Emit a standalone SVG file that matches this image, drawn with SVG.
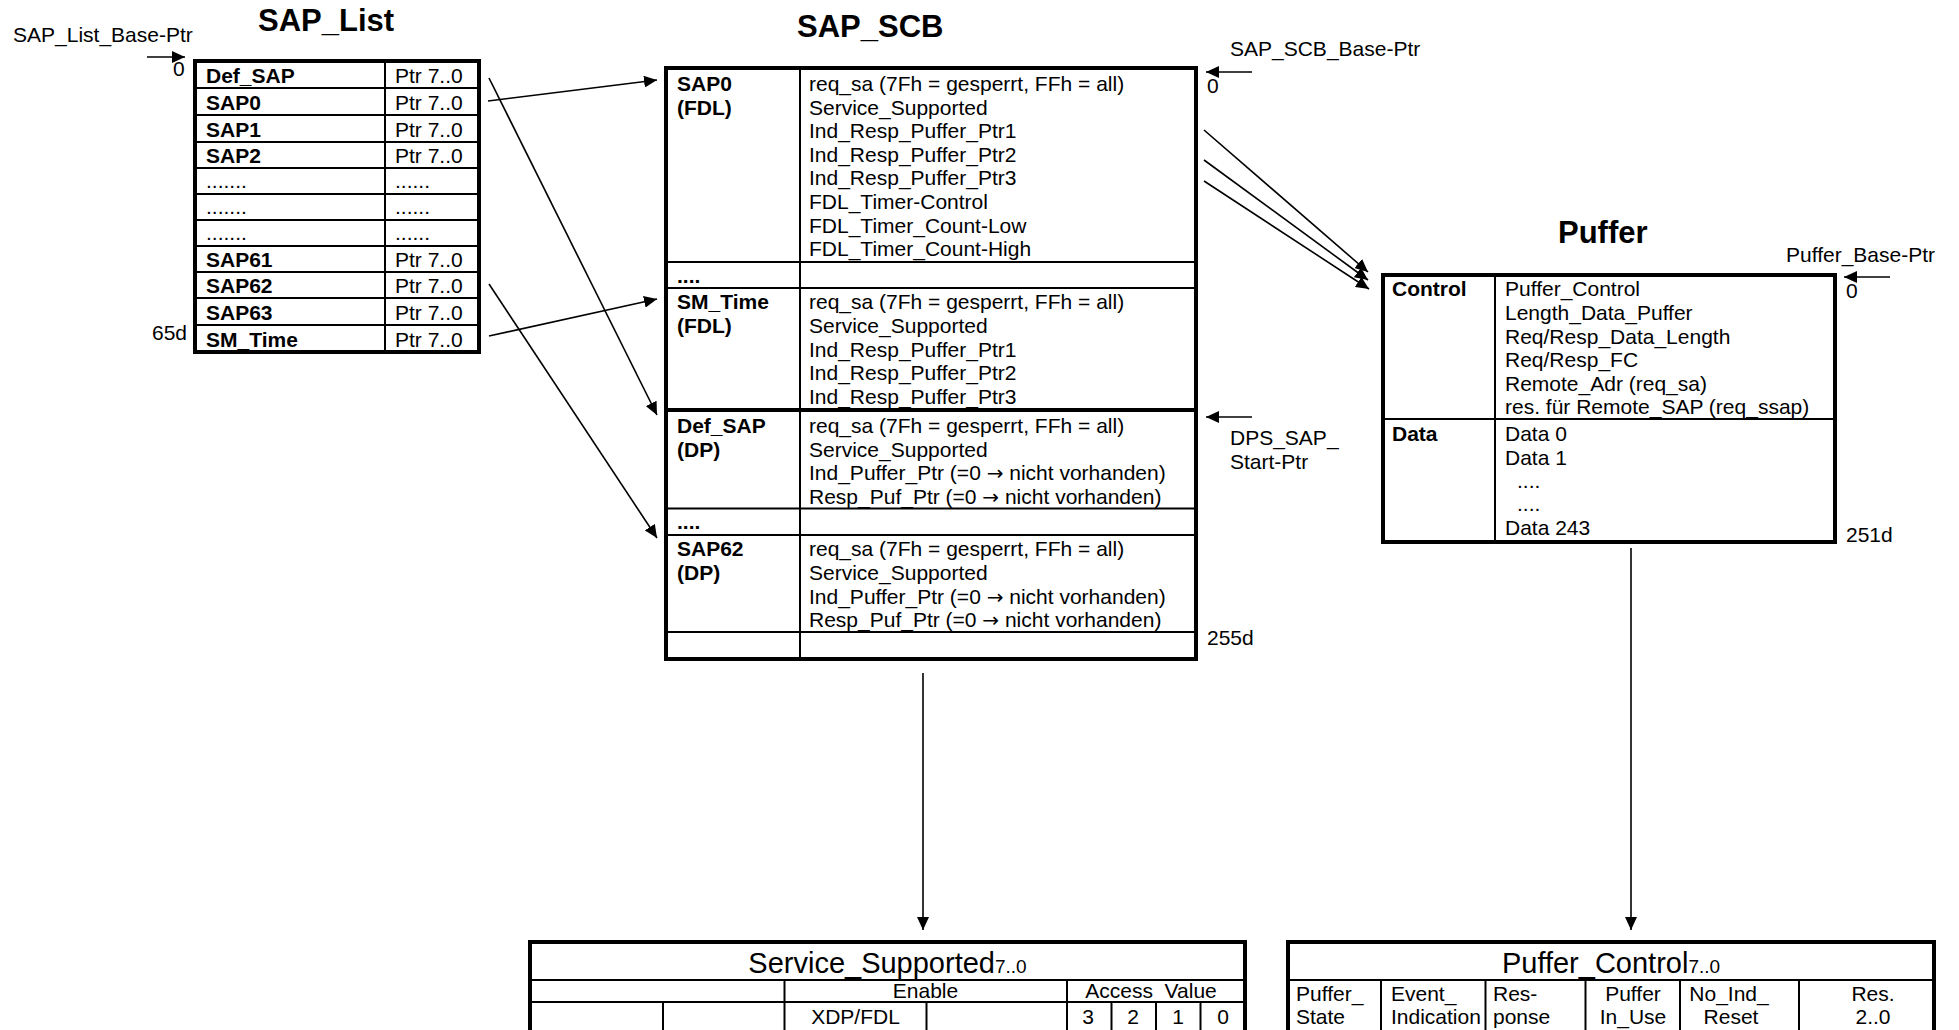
<svg xmlns="http://www.w3.org/2000/svg" width="1959" height="1030" viewBox="0 0 1959 1030">
<defs>
<marker id="ah" markerUnits="userSpaceOnUse" markerWidth="14" markerHeight="12" refX="13" refY="6" orient="auto"><path d="M0,0 L13,6 L0,12 Z" fill="#000"/></marker>
</defs>
<style>
text{font-family:"Liberation Sans",Arial,sans-serif;font-size:21px;fill:#000}
.b{font-weight:bold}
.t{font-weight:bold;font-size:31px}
.m{text-anchor:middle}
.sym{font-family:"DejaVu Sans",sans-serif;font-size:20px}
.ob{fill:none;stroke:#000;stroke-width:4}
.il{stroke:#000;stroke-width:2}
.tl{stroke:#000;stroke-width:4}
.ar{stroke:#000;stroke-width:1.6;fill:none;marker-end:url(#ah)}
</style>
<rect width="1959" height="1030" fill="#fff"/>

<g id="sap_list">
<text class="t" x="258" y="31">SAP_List</text>
<rect class="ob" x="195" y="61" width="284" height="291"/>
<line class="il" x1="385" y1="61" x2="385" y2="352"/>
<line class="il" x1="195" y1="88" x2="479" y2="88"/>
<line class="il" x1="195" y1="115" x2="479" y2="115"/>
<line class="il" x1="195" y1="142" x2="479" y2="142"/>
<line class="il" x1="195" y1="168" x2="479" y2="168"/>
<line class="il" x1="195" y1="194" x2="479" y2="194"/>
<line class="il" x1="195" y1="220" x2="479" y2="220"/>
<line class="il" x1="195" y1="246" x2="479" y2="246"/>
<line class="il" x1="195" y1="272" x2="479" y2="272"/>
<line class="il" x1="195" y1="298" x2="479" y2="298"/>
<line class="il" x1="195" y1="325" x2="479" y2="325"/>
<text class="b" x="206" y="83">Def_SAP</text><text x="395" y="83">Ptr 7..0</text>
<text class="b" x="206" y="110">SAP0</text><text x="395" y="110">Ptr 7..0</text>
<text class="b" x="206" y="137">SAP1</text><text x="395" y="137">Ptr 7..0</text>
<text class="b" x="206" y="163">SAP2</text><text x="395" y="163">Ptr 7..0</text>
<text x="206" y="188">.......</text><text x="395" y="188">......</text>
<text x="206" y="214">.......</text><text x="395" y="214">......</text>
<text x="206" y="240">.......</text><text x="395" y="240">......</text>
<text class="b" x="206" y="267">SAP61</text><text x="395" y="267">Ptr 7..0</text>
<text class="b" x="206" y="293">SAP62</text><text x="395" y="293">Ptr 7..0</text>
<text class="b" x="206" y="320">SAP63</text><text x="395" y="320">Ptr 7..0</text>
<text class="b" x="206" y="347">SM_Time</text><text x="395" y="347">Ptr 7..0</text>
</g>

<g id="sap_scb">
<text class="t" x="797" y="37">SAP_SCB</text>
<rect class="ob" x="666" y="68" width="530" height="591"/>
<line class="il" x1="800" y1="68" x2="800" y2="659"/>
<line class="il" x1="666" y1="262" x2="1196" y2="262"/>
<line class="il" x1="666" y1="288" x2="1196" y2="288"/>
<line class="tl" x1="666" y1="410" x2="1196" y2="410"/>
<line class="il" x1="666" y1="508.5" x2="1196" y2="508.5"/>
<line class="il" x1="666" y1="535" x2="1196" y2="535"/>
<line class="il" x1="666" y1="632" x2="1196" y2="632"/>
<text class="b" x="677" y="91">SAP0</text>
<text class="b" x="677" y="114.5">(FDL)</text>
<text x="809" y="91">req_sa (7Fh = gesperrt, FFh = all)</text>
<text x="809" y="114.5">Service_Supported</text>
<text x="809" y="138">Ind_Resp_Puffer_Ptr1</text>
<text x="809" y="161.5">Ind_Resp_Puffer_Ptr2</text>
<text x="809" y="185">Ind_Resp_Puffer_Ptr3</text>
<text x="809" y="209">FDL_Timer-Control</text>
<text x="809" y="232.5">FDL_Timer_Count-Low</text>
<text x="809" y="256">FDL_Timer_Count-High</text>
<text class="b" x="677" y="283">....</text>
<text class="b" x="677" y="309">SM_Time</text>
<text class="b" x="677" y="333">(FDL)</text>
<text x="809" y="309">req_sa (7Fh = gesperrt, FFh = all)</text>
<text x="809" y="333">Service_Supported</text>
<text x="809" y="356.5">Ind_Resp_Puffer_Ptr1</text>
<text x="809" y="380">Ind_Resp_Puffer_Ptr2</text>
<text x="809" y="403.5">Ind_Resp_Puffer_Ptr3</text>
<text class="b" x="677" y="433">Def_SAP</text>
<text class="b" x="677" y="456.5">(DP)</text>
<text x="809" y="433">req_sa (7Fh = gesperrt, FFh = all)</text>
<text x="809" y="456.5">Service_Supported</text>
<text x="809" y="480">Ind_Puffer_Ptr (=0 <tspan class="sym">→</tspan> nicht vorhanden)</text>
<text x="809" y="503.5">Resp_Puf_Ptr (=0 <tspan class="sym">→</tspan> nicht vorhanden)</text>
<text class="b" x="677" y="528.5">....</text>
<text class="b" x="677" y="556">SAP62</text>
<text class="b" x="677" y="580">(DP)</text>
<text x="809" y="556">req_sa (7Fh = gesperrt, FFh = all)</text>
<text x="809" y="580">Service_Supported</text>
<text x="809" y="603.5">Ind_Puffer_Ptr (=0 <tspan class="sym">→</tspan> nicht vorhanden)</text>
<text x="809" y="627">Resp_Puf_Ptr (=0 <tspan class="sym">→</tspan> nicht vorhanden)</text>
</g>

<g id="puffer">
<text class="t" x="1558" y="243">Puffer</text>
<rect class="ob" x="1383" y="275" width="452" height="267"/>
<line class="il" x1="1495" y1="275" x2="1495" y2="542"/>
<line class="il" x1="1383" y1="419" x2="1835" y2="419"/>
<text class="b" x="1392" y="296">Control</text>
<text x="1505" y="296">Puffer_Control</text>
<text x="1505" y="320">Length_Data_Puffer</text>
<text x="1505" y="343.5">Req/Resp_Data_Length</text>
<text x="1505" y="367">Req/Resp_FC</text>
<text x="1505" y="390.5">Remote_Adr (req_sa)</text>
<text x="1505" y="414">res. für Remote_SAP (req_ssap)</text>
<text class="b" x="1392" y="441">Data</text>
<text x="1505" y="441">Data 0</text>
<text x="1505" y="464.5">Data 1</text>
<text x="1517" y="488">....</text>
<text x="1517" y="511">....</text>
<text x="1505" y="535">Data 243</text>
</g>

<g id="service_supported">
<rect class="ob" x="530" y="942" width="715" height="120"/>
<line class="il" x1="530" y1="980" x2="1245" y2="980"/>
<line class="il" x1="530" y1="1002" x2="1245" y2="1002"/>
<line class="il" x1="784.5" y1="980" x2="784.5" y2="1040"/>
<line class="il" x1="1067" y1="980" x2="1067" y2="1040"/>
<line class="il" x1="663" y1="1002" x2="663" y2="1040"/>
<line class="il" x1="926.5" y1="1002" x2="926.5" y2="1040"/>
<line class="il" x1="1111.5" y1="1002" x2="1111.5" y2="1040"/>
<line class="il" x1="1156" y1="1002" x2="1156" y2="1040"/>
<line class="il" x1="1200.5" y1="1002" x2="1200.5" y2="1040"/>
<text class="m" x="887.5" y="973"><tspan font-size="29">Service_Supported</tspan><tspan font-size="19">7..0</tspan></text>
<text class="m" x="925.5" y="998">Enable</text>
<text class="m" x="1151" y="998">Access_Value</text>
<text class="m" x="855.5" y="1024">XDP/FDL</text>
<text class="m" x="1088" y="1024">3</text>
<text class="m" x="1133" y="1024">2</text>
<text class="m" x="1178" y="1024">1</text>
<text class="m" x="1223" y="1024">0</text>
</g>

<g id="puffer_control">
<rect class="ob" x="1288" y="942" width="646" height="120"/>
<line class="il" x1="1288" y1="980" x2="1934" y2="980"/>
<line class="il" x1="1381" y1="980" x2="1381" y2="1040"/>
<line class="il" x1="1485.5" y1="980" x2="1485.5" y2="1040"/>
<line class="il" x1="1585.5" y1="980" x2="1585.5" y2="1040"/>
<line class="il" x1="1680" y1="980" x2="1680" y2="1040"/>
<line class="il" x1="1799" y1="980" x2="1799" y2="1040"/>
<text class="m" x="1611" y="973"><tspan font-size="29">Puffer_Control</tspan><tspan font-size="19">7..0</tspan></text>
<text x="1296" y="1001">Puffer_</text><text x="1296" y="1024">State</text>
<text x="1391" y="1001">Event_</text><text x="1391" y="1024">Indication</text>
<text x="1493" y="1001">Res-</text><text x="1493" y="1024">ponse</text>
<text class="m" x="1633" y="1001">Puffer</text><text class="m" x="1633" y="1024">In_Use</text>
<text class="m" x="1729" y="1001">No_Ind_</text><text class="m" x="1731" y="1024">Reset</text>
<text class="m" x="1873" y="1001">Res.</text><text class="m" x="1873" y="1024">2..0</text>
</g>

<g id="labels">
<text x="13" y="42">SAP_List_Base-Ptr</text>
<text x="173" y="76">0</text>
<text x="152" y="340">65d</text>
<text x="1230" y="56">SAP_SCB_Base-Ptr</text>
<text x="1207" y="93">0</text>
<text x="1230" y="445">DPS_SAP_</text>
<text x="1230" y="469">Start-Ptr</text>
<text x="1207" y="645">255d</text>
<text x="1786" y="262">Puffer_Base-Ptr</text>
<text x="1846" y="298">0</text>
<text x="1846" y="542">251d</text>
</g>

<g id="connectors">
<path class="ar" d="M488,101 L657,80"/>
<path class="ar" d="M489,78 L657,415"/>
<path class="ar" d="M489,336 L657,299"/>
<path class="ar" d="M489,284 L657,538"/>
<path class="ar" d="M1204,130 L1368,272"/>
<path class="ar" d="M1204,160 L1368,280"/>
<path class="ar" d="M1204,181 L1369,289"/>
<path class="ar" d="M923,673 L923,930"/>
<path class="ar" d="M1631,548 L1631,930"/>
<path class="ar" d="M147,57 L185,57"/>
<path class="ar" d="M1252,72 L1206,72"/>
<path class="ar" d="M1252,417 L1206,417"/>
<path class="ar" d="M1890,277 L1844,277"/>
</g>
</svg>
